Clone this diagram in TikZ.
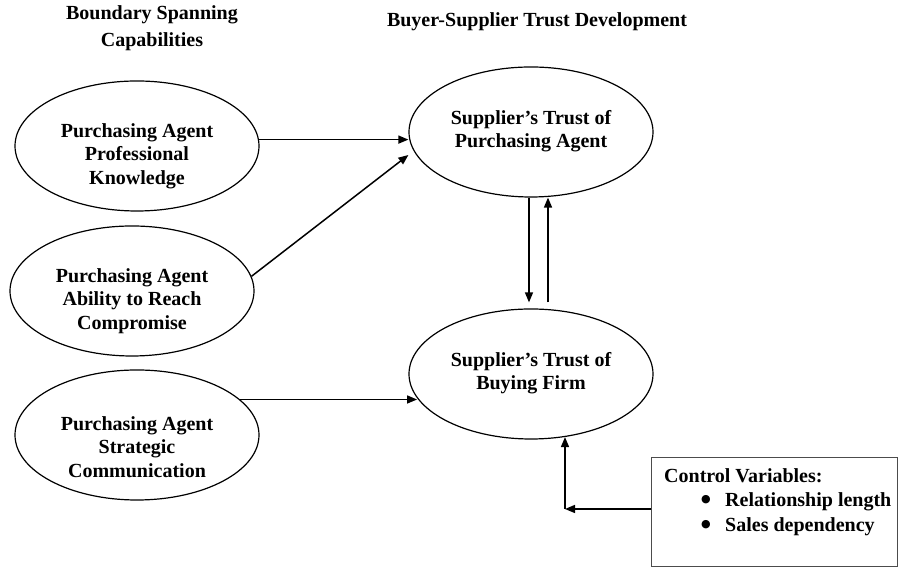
\documentclass[tikz,border=0pt]{standalone}
\usepackage{fontspec}
\setmainfont{Liberation Serif}
\newfontfamily\dejavu{DejaVu Sans}
\usetikzlibrary{arrows.meta,shapes.geometric,calc}
\begin{document}
\begin{tikzpicture}[x=1pt,y=1pt,
  every node/.style={font=\bfseries\fontsize{20}{23.5}\selectfont, inner sep=0pt},
  oval/.style={draw, ellipse, line width=1.2pt, minimum width=244pt, minimum height=130pt},
  txt/.style={align=center},
  bul/.style={font=\dejavu\fontsize{11}{11}\selectfont, anchor=center},
  arr/.style={line width=1.5pt, -{Triangle[length=10pt,width=8pt]}},
  cbox/.style={draw=black!70, line width=1.1pt}]
\useasboundingbox (0,0) rectangle (898,569);
% headings
\node[txt, font=\bfseries\fontsize{20}{27}\selectfont] (h1) at (152,540.5) {Boundary Spanning\\Capabilities};
\node[txt] (h2) at (537,547) {Buyer-Supplier Trust Development};
% ellipses
\node[oval] (e1) at (137,423) {};
\node[oval] (e2) at (132,278) {};
\node[oval] (e3) at (137,134) {};
\node[oval] (tr) at (531,437) {};
\node[oval] (br) at (531,195) {};
% texts
\node[txt] (t1) at (137,413) {Purchasing Agent\\Professional\\Knowledge};
\node[txt] (t2) at (132,268) {Purchasing Agent\\Ability to Reach\\Compromise};
\node[txt] (t3) at (137,122) {Purchasing Agent\\Strategic\\Communication};
\node[txt] (t4) at (531,438) {Supplier’s Trust of\\Purchasing Agent};
\node[txt] (t5) at (531,196) {Supplier’s Trust of\\Buying Firm};
% control box
\node[cbox, anchor=south west, minimum width=246pt, minimum height=109pt] (cb) at (651,2) {};
\node[anchor=base west] (cv) at (664,86) {Control Variables:};
\node[bul] (b1) at (706,69) {●};
\node[anchor=base west] (r1) at (725,62) {Relationship length};
\node[bul] (b2) at (706,44) {●};
\node[anchor=base west] (r2) at (725,37) {Sales dependency};
% connectors
\draw[arr] (e1.3.8) -- (e1.3.8 -| tr.west);
\draw[arr] (e2.7.5) -- ([yshift=-23pt]tr.west);
\draw[arr] (e3.19.5) -- (e3.19.5 -| br.192.5);
\draw[arr, shorten >=6pt] ([xshift=-2pt]tr.south) -- ([xshift=-2pt]br.north);
\draw[arr, shorten <=6pt] ([xshift=17pt]br.north) -- ([xshift=17pt]tr.south);
\coordinate (c) at (565,60);
\draw[arr] (c -| cb.west) -- (c);
\draw[arr] (c) -- (c |- br.298.6);
\end{tikzpicture}
\end{document}
